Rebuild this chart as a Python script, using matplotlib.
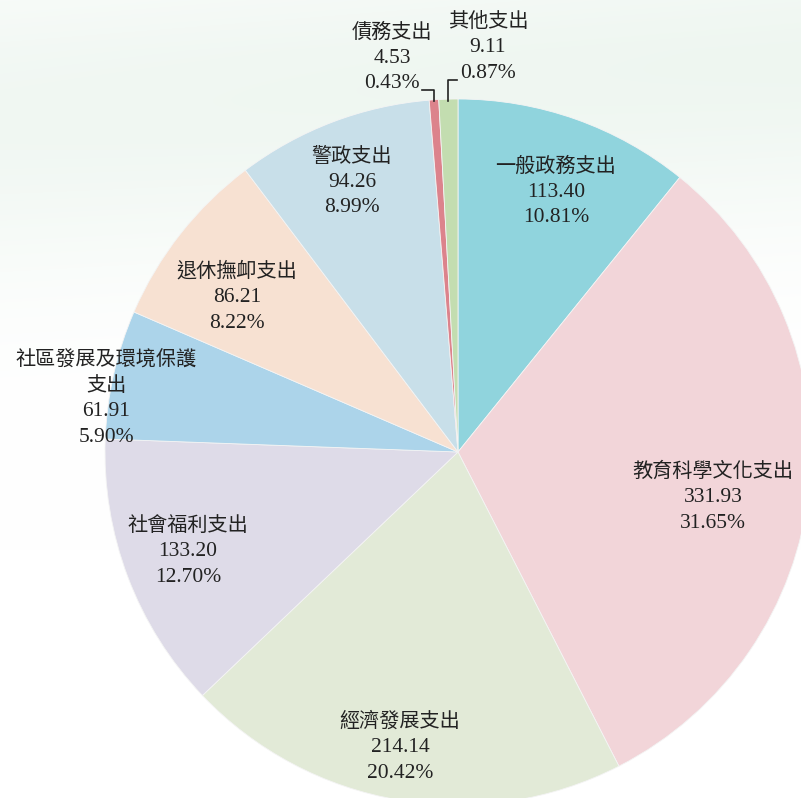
import numpy as np
import matplotlib.pyplot as plt

plt.rcParams['font.family'] = ['Liberation Serif', 'Noto Sans CJK TC']

# clockwise from 12 o'clock
names = ['一般政務支出', '教育科學文化支出', '經濟發展支出', '社會福利支出',
         '社區發展及環境保護\n支出', '退休撫卹支出', '警政支出', '債務支出', '其他支出']
values = [113.40, 331.93, 214.14, 133.20, 61.91, 86.21, 94.26, 4.53, 9.11]
pcts = ['10.81%', '31.65%', '20.42%', '12.70%', '5.90%', '8.22%', '8.99%', '0.43%', '0.87%']
colors = ['#90d4dd', '#f2d5d9', '#e2ead7', '#dedbe8', '#acd4ea',
          '#f7e1d2', '#c8dfe9', '#dc838c', '#c3ddb0']

W, H = 801, 798
fig = plt.figure(figsize=(W / 100, H / 100), dpi=100)
ax = fig.add_axes([0, 0, 1, 1])

# faint green wash behind the pie (pixel rows from the top)
yy, xx = np.mgrid[0:H, 0:W]
band = np.exp(-((yy - 150 + 0.08 * xx) / 170.0) ** 2) * 0.75
band *= np.clip(1.1 - yy / 500.0, 0, 1)
green = np.array([232, 243, 235]) / 255
bg = np.ones((H, W, 3))
for k in range(3):
    bg[..., k] = 1 - band * (1 - green[k])
ax.imshow(bg, extent=(0, W, 0, H), origin='upper', zorder=0)

cx, cy, r = 458, H - 452, 353
ax.pie(values, colors=colors, startangle=90, counterclock=False,
       center=(cx, cy), radius=r, frame=True,
       wedgeprops=dict(edgecolor='#f4f4f4', linewidth=0.6, zorder=1))
ax.set_xlim(0, W)
ax.set_ylim(0, H)
ax.set_aspect('equal')
ax.axis('off')

# label anchor (x, y of top line) in pixels from top-left
pos = [(556, 167), (713, 472), (400, 722), (188, 526), (106, 361),
       (237, 272), (352, 157), (392, 33), (488, 22)]
step = 25.5
for name, v, p, (x, y) in zip(names, values, pcts, pos):
    lines = name.split('\n')
    for i, ln in enumerate(lines):
        ax.text(x, H - (y + i * step), ln, ha='center', va='center',
                fontsize=14.5, color='#222222')
    n = len(lines)
    ax.text(x, H - (y + n * step), f'{v:.2f}', ha='center', va='center',
            fontsize=15.5, color='#222222')
    ax.text(x, H - (y + (n + 1) * step), p, ha='center', va='center',
            fontsize=15.5, color='#222222')

# leader lines for the two small slices
ax.plot([422, 434, 434], [H - 90, H - 90, H - 101], color='#222222', lw=1.2, zorder=3)
ax.plot([448, 448, 457], [H - 101, H - 80, H - 80], color='#222222', lw=1.2, zorder=3)

fig.savefig('out.png', dpi=100)
